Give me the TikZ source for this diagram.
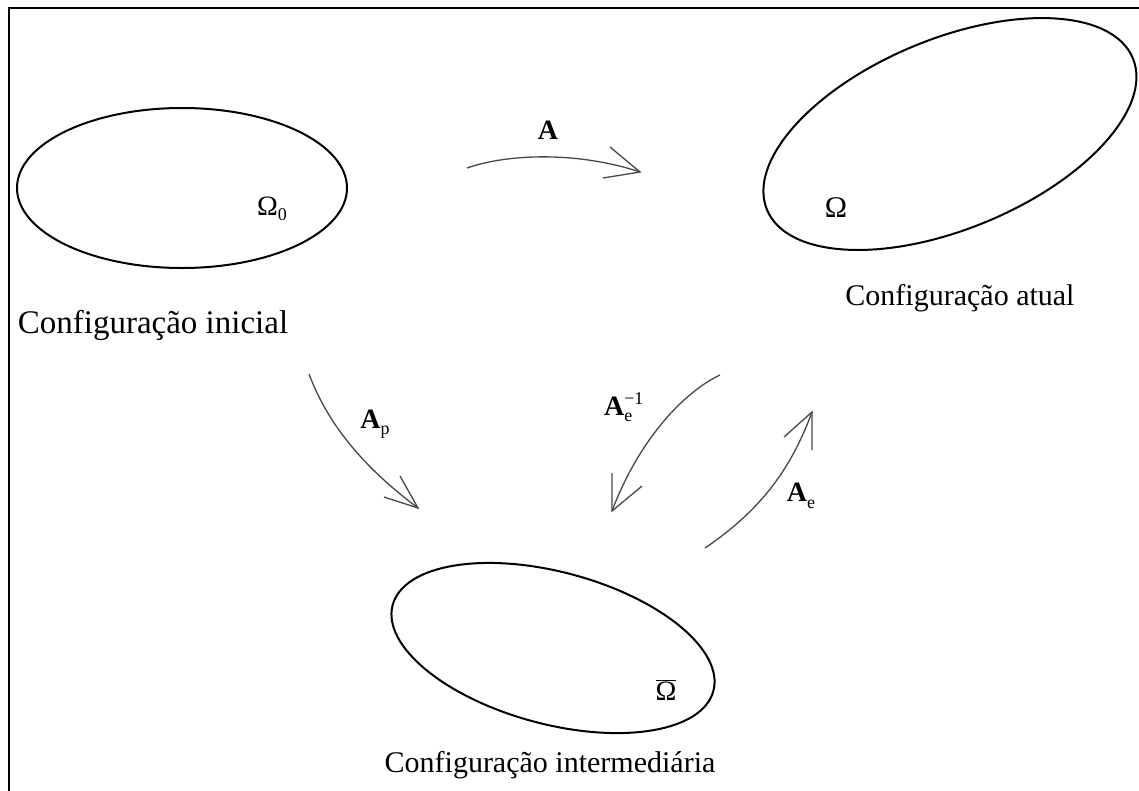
\documentclass[tikz,border=0pt]{standalone}
\usepackage{fontspec}
\setmainfont{Liberation Serif}
\begin{document}
\begin{tikzpicture}[x=1pt,y=-1pt,
  ell/.style={draw=black,line width=2pt},
  conn/.style={draw=black!72,line width=1.3pt,line join=miter},
  caption/.style={font=\fontsize{30}{36}\selectfont,inner sep=0pt},
  sym/.style={font=\fontsize{28}{32}\selectfont,inner sep=0pt},
  frame/.style={draw=black,line width=2pt}]
\useasboundingbox (0,0) rectangle (1139,790);
% frame (cropped)
\coordinate (fb) at (9,791);
\coordinate (fc) at (9,8);
\coordinate (fr) at (1140,8);
\draw[frame] (fb) -- (fc) -- (fr);
% ellipses
\coordinate (c0) at (182,188);
\coordinate (c1) at (950,134);
\coordinate (c2) at (553,648);
\draw[ell] (c0) ellipse [x radius=165, y radius=80];
\draw[ell,rotate around={22.5:(c1)}] (c1) ellipse [x radius=198, y radius=95];
\draw[ell,rotate around={-15:(c2)}] (c2) ellipse [x radius=166, y radius=76];
% captions
\node[caption,font=\fontsize{33}{40}\selectfont] (t0) at (153,325) {Configuração inicial};
\node[caption] (t1) at (960,298) {Configuração atual};
\node[caption] (t2) at (550,765) {Configuração intermediária};
% domain symbols
\node[sym] (o0) at (272,209) {Ω\raisebox{-0.4ex}{\fontsize{18}{20}\selectfont 0}};
\node[sym,font=\fontsize{30}{34}\selectfont] (o1) at (836,208) {Ω};
\node[sym] (o2) at (666,690) {$\overline{\hbox{\fontsize{28}{32}\selectfont Ω}}$};
% arrow A
\coordinate (aS) at (467,168);
\coordinate (aT) at (640,172);
\coordinate (aH1) at (610,147);
\coordinate (aH2) at (603,178);
\draw[conn] (aS) .. controls (510,153) and (580,152) .. (aT);
\draw[conn] (aH1) -- (aT) -- (aH2);
\node[sym,font=\fontsize{28}{32}\selectfont\bfseries] (lA) at (548,130) {A};
% arrow Ap
\coordinate (pS) at (309,374);
\coordinate (pT) at (418,508);
\coordinate (pH1) at (400,476);
\coordinate (pH2) at (384,497);
\draw[conn] (pS) .. controls (330,430) and (370,472) .. (pT);
\draw[conn] (pH1) -- (pT) -- (pH2);
\node[sym] (lAp) at (375,424) {\textbf{A}\raisebox{-0.5ex}{\fontsize{18}{20}\selectfont p}};
% arrow Ae^-1
\coordinate (iS) at (720,375);
\coordinate (iT) at (612,511);
\coordinate (iH1) at (612,473);
\coordinate (iH2) at (642,486);
\draw[conn] (iS) .. controls (682,393) and (638,442) .. (iT);
\draw[conn] (iH1) -- (iT) -- (iH2);
\node[sym] (lAi) at (624,407) {$\hbox{\fontsize{28}{32}\selectfont\bfseries A}^{\hbox{\fontsize{18}{20}\selectfont −1}}_{\hbox{\fontsize{18}{20}\selectfont e}}$};
% arrow Ae
\coordinate (eS) at (705,548);
\coordinate (eT) at (812,412);
\coordinate (eH1) at (812,450);
\coordinate (eH2) at (784,437);
\draw[conn] (eS) .. controls (758,512) and (790,472) .. (eT);
\draw[conn] (eH1) -- (eT) -- (eH2);
\node[sym] (lAe) at (801,496) {\textbf{A}\raisebox{-0.5ex}{\fontsize{18}{20}\selectfont e}};
\end{tikzpicture}
\end{document}
